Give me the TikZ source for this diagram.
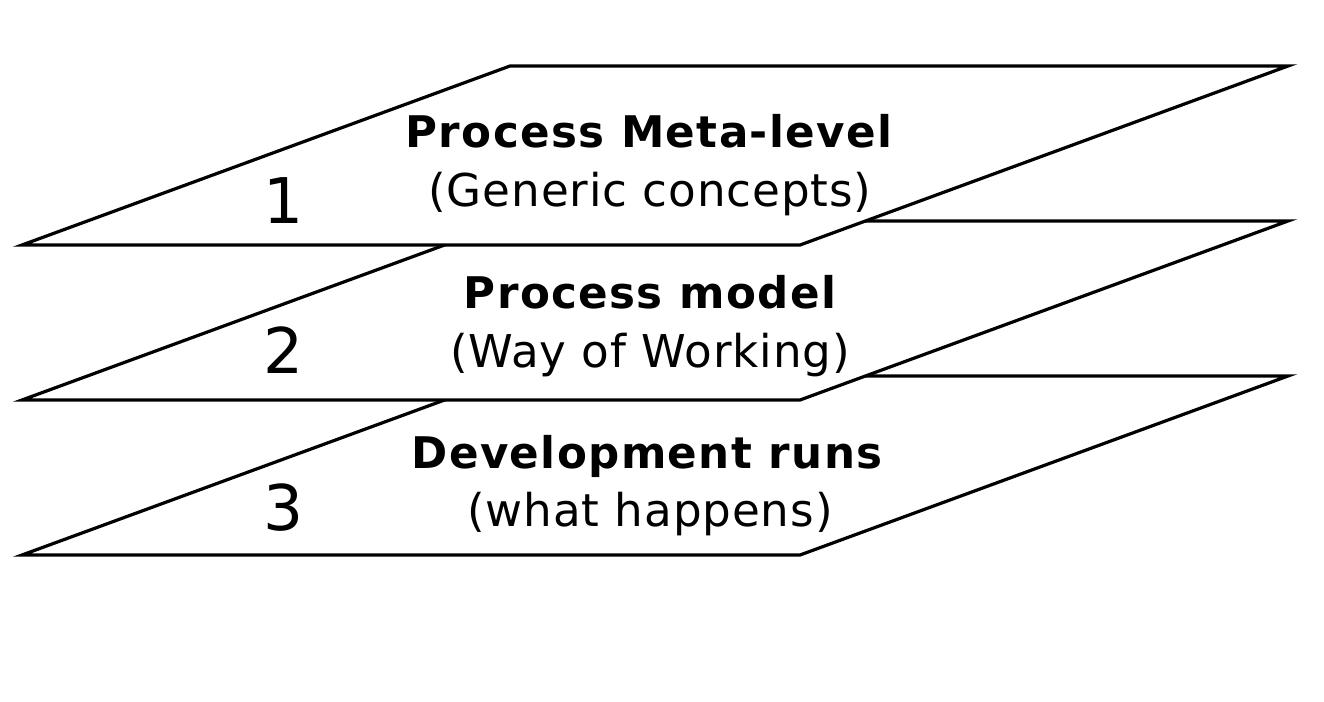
\documentclass[tikz,border=0pt]{standalone}
\usepackage{fontspec}
\setmainfont{DejaVu Sans}
\newfontfamily\layerfont{DejaVu Sans}[LetterSpace=2.0]
\newfontfamily\titlefont{DejaVu Sans Bold}[LetterSpace=3.2]
\usetikzlibrary{positioning}
\tikzset{
    layernode/.style = {draw, line width=1.6pt, fill=white, line join=miter},
    titlenode/.style = {draw=none, fill=none, inner sep=0em, anchor=base,
      font=\titlefont\fontsize{21.8}{26}\selectfont},
    textnode/.style  = {draw=none, fill=none, inner sep=0em, anchor=base,
      font=\layerfont\fontsize{22.6}{26}\selectfont},
    numbernode/.style = {draw=none, fill=none, inner sep=0em, anchor=base,
      font=\layerfont\fontsize{31.5}{36}\selectfont}
}

\begin{document}
\begin{tikzpicture}[x=0.5pt, y=-0.5pt]
\useasboundingbox (0,0) rectangle (1324,702);

\draw[layernode] (22,555) coordinate (bl3) -- (800,555) coordinate (br3) 
	-- (1288,376) coordinate (tr3) -- (510,376) coordinate (tl3) -- cycle; 
\node[titlenode, name=title3] at (647,468) {Development runs}; 
\node[textnode, name=sub3] at (650,526) {(what happens)}; 
\node[numbernode, name=num3] at (284,530) {3}; 

\draw[layernode] (22,400) coordinate (bl2) -- (800,400) coordinate (br2) 
	-- (1288,221) coordinate (tr2) -- (510,221) coordinate (tl2) -- cycle; 
\node[titlenode, name=title2] at (650,308) {Process model}; 
\node[textnode, name=sub2] at (650,367) {(Way of Working)}; 
\node[numbernode, name=num2] at (284,373) {2}; 

\draw[layernode] (22,245) coordinate (bl1) -- (800,245) coordinate (br1) 
	-- (1288,66) coordinate (tr1) -- (510,66) coordinate (tl1) -- cycle; 
\node[titlenode, name=title1] at (649,147) {Process Meta-level}; 
\node[textnode, name=sub1] at (650,206) {(Generic concepts)}; 
\node[numbernode, name=num1] at (284,223) {1}; 
\end{tikzpicture}
\end{document}
